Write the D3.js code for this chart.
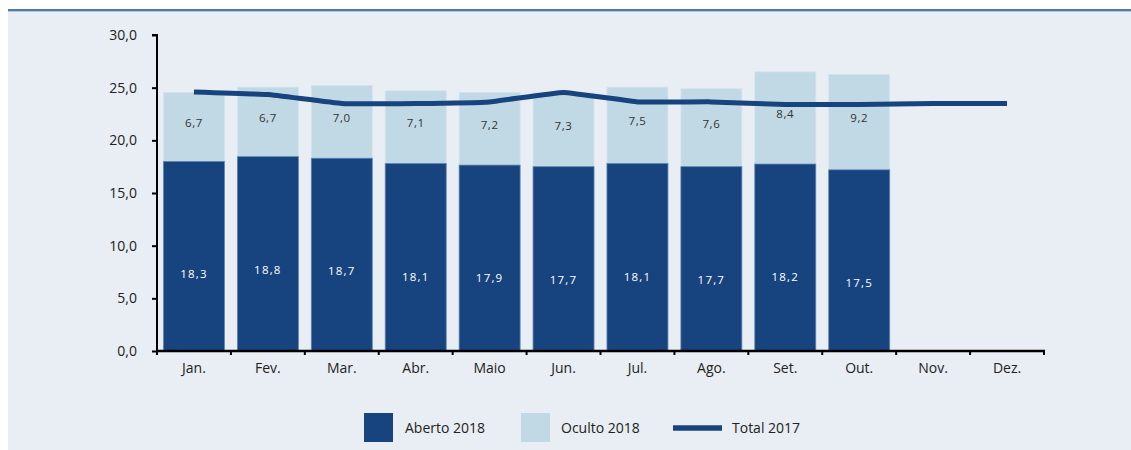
<!DOCTYPE html>
<html lang="pt">

<body style="margin:0;background:#ffffff;">
    <script type='text/javascript' src='https://d3js.org/d3.v7.min.js'></script>
    <script>

        // Data
        const meses = ["Jan.", "Fev.", "Mar.", "Abr.", "Maio", "Jun.", "Jul.", "Ago.", "Set.", "Out.", "Nov.", "Dez."];
        const aberto2018 = [18.0, 18.45, 18.3, 17.8, 17.65, 17.5, 17.8, 17.5, 17.75, 17.2];
        const oculto2018 = [6.55, 6.6, 6.9, 6.9, 6.9, 7.0, 7.25, 7.4, 8.75, 9.05];
        const rotuloAberto = ["18,3", "18,8", "18,7", "18,1", "17,9", "17,7", "18,1", "17,7", "18,2", "17,5"];
        const rotuloOculto = ["6,7", "6,7", "7,0", "7,1", "7,2", "7,3", "7,5", "7,6", "8,4", "9,2"];
        const total2017 = [24.6, 24.35, 23.5, 23.5, 23.65, 24.55, 23.65, 23.65, 23.4, 23.4, 23.5, 23.5];
        const yTicks = [0, 5, 10, 15, 20, 25, 30];

        const W = 1131, H = 450;
        const corEscuro = "#17447e", corClaro = "#c1d9e5", corLinha = "#17447e";
        const fonte = "'Open Sans', 'Noto Sans', sans-serif";

        const svg = d3.select("body")
            .append("svg")
            .attr('width', W)
            .attr('height', H)
            .style("display", "block");

        // background panel + top rule
        svg.append("rect").attr("x", 8).attr("y", 10).attr("width", W - 8).attr("height", H - 10).attr("fill", "#e8eef3");
        svg.append("rect").attr("x", 8).attr("y", 9).attr("width", W - 8).attr("height", 2).attr("fill", "#4d78ab");
        svg.append("rect").attr("x", 8).attr("y", 11).attr("width", W - 8).attr("height", 1).attr("fill", "#b3c6dc");

        // scales
        const x = d3.scaleBand()
            .domain(meses)
            .range([157, 1044])
            .paddingInner(0.175)
            .paddingOuter(0.0875);

        const y = d3.scaleLinear()
            .domain([0, 30])
            .range([351, 35]);

        const dados = aberto2018.map(function (d, i) {
            return { mes: meses[i], aberto: d, oculto: oculto2018[i], la: rotuloAberto[i], lo: rotuloOculto[i] };
        });

        // bars - oculto on top of aberto
        svg.selectAll(".oculto")
            .data(dados)
            .enter()
            .append("rect")
            .attr("x", d => x(d.mes))
            .attr("width", x.bandwidth())
            .attr("y", d => y(d.aberto + d.oculto))
            .attr("height", d => y(d.aberto) - y(d.aberto + d.oculto))
            .attr("fill", corClaro)
            .attr("stroke", "#d3e4ee")
            .attr("stroke-width", 0.8);

        svg.selectAll(".aberto")
            .data(dados)
            .enter()
            .append("rect")
            .attr("x", d => x(d.mes))
            .attr("width", x.bandwidth())
            .attr("y", d => y(d.aberto))
            .attr("height", d => y(0) - y(d.aberto))
            .attr("fill", corEscuro)
            .attr("stroke", "#5d84b6")
            .attr("stroke-width", 0.8);

        // data labels
        svg.selectAll(".lo")
            .data(dados)
            .enter()
            .append("text")
            .attr("x", d => x(d.mes) + x.bandwidth() / 2)
            .attr("y", d => (y(d.aberto) + y(d.aberto + d.oculto)) / 2 - 4)
            .attr("dy", "0.35em")
            .attr("text-anchor", "middle")
            .attr("font-family", fonte)
            .attr("font-size", 11.5)
            .attr("letter-spacing", 0.6)
            .attr("fill", "#333333")
            .text(d => d.lo);

        svg.selectAll(".la")
            .data(dados)
            .enter()
            .append("text")
            .attr("x", d => x(d.mes) + x.bandwidth() / 2)
            .attr("y", d => y(d.aberto) + 113)
            .attr("dy", "0.35em")
            .attr("text-anchor", "middle")
            .attr("font-family", fonte)
            .attr("font-size", 11.5)
            .attr("letter-spacing", 1.2)
            .attr("fill", "#ffffff")
            .text(d => d.la);

        // total 2017 line
        svg.append("path")
            .datum(total2017)
            .attr("fill", "none")
            .attr("stroke", corLinha)
            .attr("stroke-width", 5)
            .attr("d", d3.line()
                .x(function (d, i) { return x(meses[i]) + x.bandwidth() / 2 })
                .y(function (d) { return y(d) })
                .curve(d3.curveCardinal.tension(0.75))
            );

        // y axis
        const yAxis = svg.append("g")
            .attr("transform", "translate(157,0)")
            .call(d3.axisLeft(y).tickValues(yTicks).tickSize(5).tickPadding(15)
                .tickFormat(d => d3.format(".1f")(d).replace(".", ",")));
        yAxis.select(".domain").attr("stroke", "#000").attr("stroke-width", 2).attr("d", "M-5,35H0V351");
        yAxis.selectAll(".tick line").attr("stroke", "#000").attr("stroke-width", 2);
        yAxis.selectAll("text").attr("font-family", fonte).attr("font-size", 14).attr("fill", "#222");

        // x axis with ticks at category boundaries
        const xAxis = svg.append("g").attr("transform", "translate(0,351)");
        xAxis.append("line")
            .attr("x1", 156).attr("x2", 1045)
            .attr("stroke", "#000").attr("stroke-width", 2.5);
        const bordas = meses.map(m => x(m) - x.step() * x.paddingInner() / 2).concat([1044]);
        xAxis.selectAll(".tk")
            .data(bordas)
            .enter()
            .append("line")
            .attr("x1", d => d).attr("x2", d => d)
            .attr("y1", 0).attr("y2", 4)
            .attr("stroke", "#000").attr("stroke-width", 2);
        xAxis.selectAll(".lb")
            .data(meses)
            .enter()
            .append("text")
            .attr("x", d => x(d) + x.bandwidth() / 2)
            .attr("y", 17)
            .attr("dy", "0.35em")
            .attr("text-anchor", "middle")
            .attr("font-family", fonte)
            .attr("font-size", 14)
            .attr("fill", "#222")
            .text(d => d);

        // legend
        const leg = svg.append("g").attr("font-family", fonte).attr("font-size", 14).attr("fill", "#222");
        leg.append("rect").attr("x", 364).attr("y", 413).attr("width", 29).attr("height", 29).attr("fill", corEscuro);
        leg.append("text").attr("x", 405).attr("y", 428).attr("dy", "0.35em").text("Aberto 2018");
        leg.append("rect").attr("x", 521).attr("y", 413).attr("width", 29).attr("height", 29).attr("fill", corClaro);
        leg.append("text").attr("x", 561).attr("y", 428).attr("dy", "0.35em").text("Oculto 2018");
        leg.append("line").attr("x1", 673).attr("x2", 722).attr("y1", 428).attr("y2", 428)
            .attr("stroke", corLinha).attr("stroke-width", 5.5);
        leg.append("text").attr("x", 732).attr("y", 428).attr("dy", "0.35em").text("Total 2017");

    </script>

</body>

</html>
